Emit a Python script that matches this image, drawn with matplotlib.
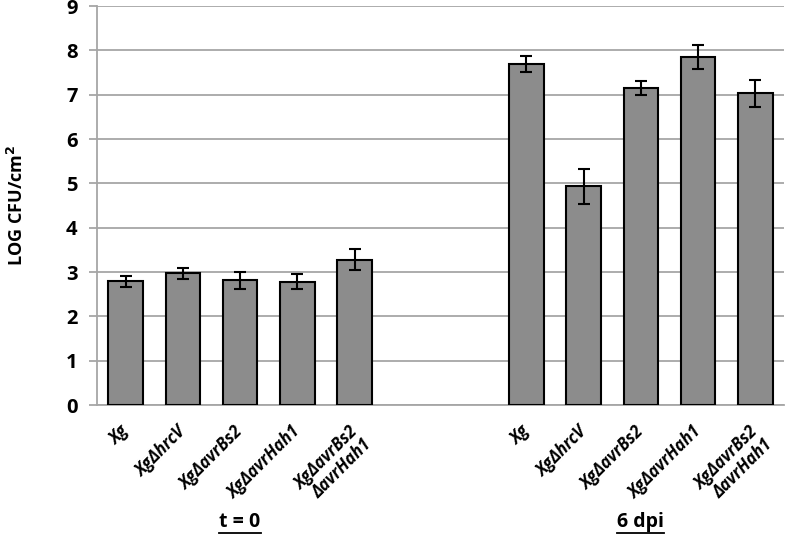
import matplotlib
matplotlib.use("Agg")
import matplotlib.pyplot as plt
from matplotlib.lines import Line2D
import numpy as np

plt.rcParams['font.family'] = ['Open Sans', 'DejaVu Sans']

categories = ["Xg", "XgΔhrcV", "XgΔavrBs2", "XgΔavrHah1", "XgΔavrBs2\nΔavrHah1",
              "", "",
              "Xg", "XgΔhrcV", "XgΔavrBs2", "XgΔavrHah1", "XgΔavrBs2\nΔavrHah1"]
values = [2.79, 2.97, 2.81, 2.78, 3.28, np.nan, np.nan, 7.70, 4.93, 7.16, 7.86, 7.03]
errors = [0.13, 0.13, 0.19, 0.17, 0.23, np.nan, np.nan, 0.18, 0.39, 0.16, 0.27, 0.30]
group_labels = ["t = 0", "6 dpi"]
yticks = list(range(0, 10))

fig = plt.figure(figsize=(7.93, 5.53), dpi=100)
ax = fig.add_axes([0.1223, 0.2676, 0.8664, 0.7214])

x = np.arange(len(categories))
ax.bar(x, values, width=0.6, color='#8c8c8c', edgecolor='black', linewidth=1.5, zorder=3)
ax.errorbar(x, values, yerr=errors, fmt='none', ecolor='black', elinewidth=1.5,
            capsize=4, capthick=1.5, zorder=4)

ax.set_xlim(-0.5, len(categories) - 0.5)
ax.set_ylim(0, 9)
ax.set_yticks(yticks)
ax.set_yticklabels([str(t) for t in yticks], fontsize=14.5, fontweight='bold')
ax.yaxis.grid(True, color='#a6a6a6', linewidth=1.3, zorder=0)
ax.set_axisbelow(True)
for s in ['top', 'right']:
    ax.spines[s].set_visible(False)
ax.spines['left'].set_color('#a6a6a6')
ax.spines['left'].set_linewidth(1.3)
ax.spines['bottom'].set_color('#a6a6a6')
ax.spines['bottom'].set_linewidth(1.3)
ax.tick_params(axis='y', length=6, color='#a6a6a6', width=1.3, pad=8)
ax.set_xticks(x)
ax.set_xticklabels([])
ax.tick_params(axis='x', length=0)

for xi, lab in zip(x, categories):
    if lab:
        ax.annotate(lab, xy=(xi, 0), xycoords=('data', 'axes fraction'),
                    xytext=(-6, -17), textcoords='offset pixels',
                    rotation=45, ha='right', va='top', rotation_mode='anchor',
                    fontsize=12, fontweight='bold', fontstyle='italic',
                    linespacing=1.1, multialignment='right', annotation_clip=False)

ax.set_ylabel("LOG CFU/cm$^\\mathbf{2}$", fontsize=13, fontweight='bold', labelpad=28)

# group labels with underline
fig.canvas.draw()
renderer = fig.canvas.get_renderer()
centers = [np.mean(x[0:5]), np.mean(x[7:12])]
for lab, cx in zip(group_labels, centers):
    xf = fig.transFigure.inverted().transform(ax.transData.transform((cx, 0)))[0]
    t = fig.text(xf, 1 - 522 / 553, lab, ha='center', va='center', fontsize=14, fontweight='bold')
    bb = t.get_window_extent(renderer).transformed(fig.transFigure.inverted())
    fig.add_artist(Line2D([bb.x0, bb.x1], [bb.y0 - 0.002, bb.y0 - 0.002],
                          transform=fig.transFigure, color='black', linewidth=1.3))

fig.savefig("out.png", dpi=100)
